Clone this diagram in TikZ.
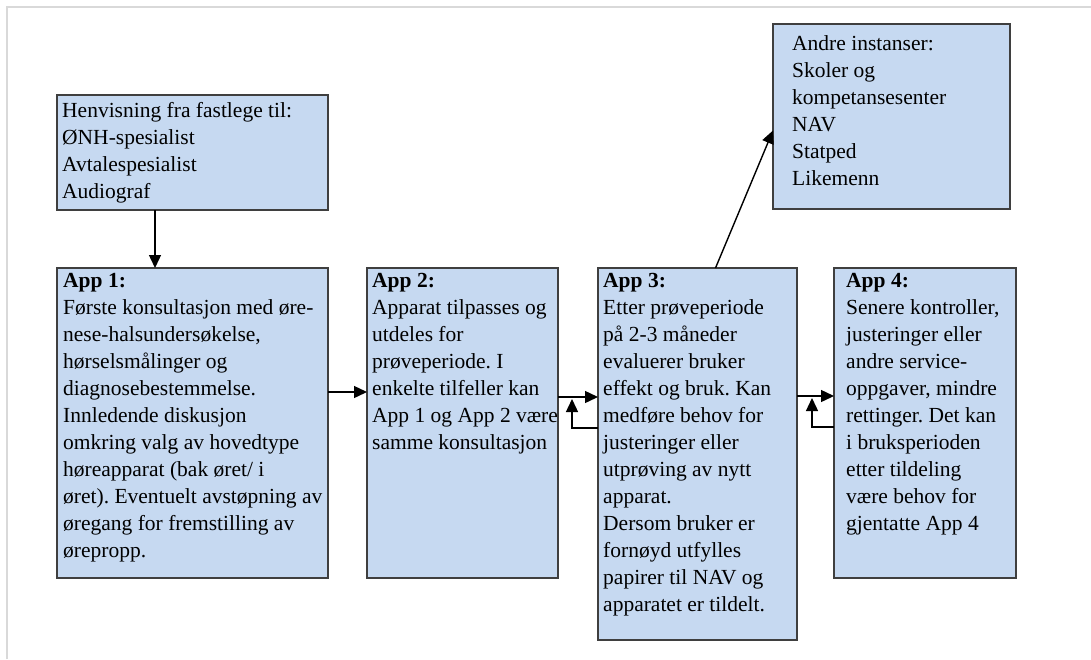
\documentclass[tikz,border=0pt]{standalone}
\usepackage{fontspec}
\setmainfont{Liberation Serif}
\usepackage{xcolor}
\usepackage{tikz}
\usetikzlibrary{positioning, arrows.meta}
\definecolor{boxfill}{HTML}{C6D9F1}
\definecolor{boxline}{HTML}{3F3F3F}
\definecolor{framegray}{HTML}{D9D9D9}
\frenchspacing

\begin{document}
\begin{tikzpicture}[x=1pt, y=-1pt, node distance=39pt]
				\tikzset{arrow/.style={-{Triangle[length=13pt, width=12pt]}, line width=1.4pt, black}}
				\tikzset{AppBox/.style={draw=boxline, fill=boxfill, line width=1.3pt, rectangle, inner sep=0pt, outer sep=0pt, anchor=north west}}
				\tikzset{AppText/.style={anchor=north west, align=left, inner sep=0pt, font=\fontsize{21.5}{27}\selectfont}}

				\useasboundingbox (0,0) rectangle (1091,659);
				\draw [framegray, line width=1.5pt] (7,659) -- (7,7) -- (1091,7);

				% Referral
				\node (ref) [AppBox, minimum width=271pt, minimum height=115pt] at (57,95) {};
				\node (reftext) [AppText] at ([xshift=5pt, yshift=-7pt]ref.north west) {Henvisning fra fastlege til:\\ØNH-spesialist\\Avtalespesialist\\Audiograf};

				% App 1
				\node (app1) [AppBox, minimum width=271pt, minimum height=310pt] at (57,268) {};
				\node (app1text) [AppText] at ([xshift=6pt, yshift=-5pt]app1.north west) {\textbf{App 1:}\\Første konsultasjon med øre-\\nese-halsundersøkelse,\\hørselsmålinger og\\diagnosebestemmelse.\\Innledende diskusjon\\omkring valg av hovedtype\\høreapparat (bak øret/ i\\øret). Eventuelt avstøpning av\\øregang for fremstilling av\\ørepropp.};

				% App 2
				\node (app2) [AppBox, minimum width=191pt, minimum height=310pt, right=of app1.north east, anchor=north west] {};
				\node (app2text) [AppText] at ([xshift=5pt, yshift=-5pt]app2.north west) {\textbf{App 2:}\\Apparat tilpasses og\\utdeles for\\prøveperiode. I\\enkelte tilfeller kan\\App 1 og App 2 være\\samme konsultasjon};

				% App 3
				\node (app3) [AppBox, minimum width=199pt, minimum height=372pt, right=40pt of app2.north east, anchor=north west] {};
				\node (app3text) [AppText] at ([xshift=5pt, yshift=-5pt]app3.north west) {\textbf{App 3:}\\Etter prøveperiode\\på 2-3 måneder\\evaluerer bruker\\effekt og bruk. Kan\\medføre behov for\\justeringer eller\\utprøving av nytt\\apparat.\\Dersom bruker er\\fornøyd utfylles\\papirer til NAV og\\apparatet er tildelt.};

				% App 4
				\node (app4) [AppBox, minimum width=182pt, minimum height=310pt, right=37pt of app3.north east, anchor=north west] {};
				\node (app4text) [AppText] at ([xshift=12pt, yshift=-5pt]app4.north west) {\textbf{App 4:}\\Senere kontroller,\\justeringer eller\\andre service-\\oppgaver, mindre\\rettinger. Det kan\\i bruksperioden\\etter tildeling\\være behov for\\gjentatte App 4};

				% Other parties
				\node (other) [AppBox, minimum width=237pt, minimum height=185pt] at (773,24) {};
				\node (othertext) [AppText] at ([xshift=19pt, yshift=-11pt]other.north west) {Andre instanser:\\Skoler og\\kompetansesenter\\NAV\\Statped\\Likemenn};

				% Connections
				\draw [arrow] ([xshift=-37.5pt]ref.south) -- ([xshift=-37.5pt]app1.north);
				\draw [arrow] ([yshift=31pt]app1.east) -- ([yshift=31pt]app1.east -| app2.west);
				\draw [arrow] ([yshift=26pt]app2.east) -- ([yshift=26pt]app2.east -| app3.west);
				\draw [arrow] ([yshift=-5pt]app2.east -| app3.west) -| ([xshift=14pt, yshift=24pt]app2.east);
				\draw [arrow] ([yshift=27pt]app4.west -| app3.east) -- ([yshift=27pt]app4.west);
				\draw [arrow] ([yshift=-4pt]app4.west) -| ([xshift=15pt, yshift=25pt]app4.west -| app3.east);
				\draw [arrow] ([xshift=18pt]app3.north) -- ([yshift=-14pt]other.west);

\end{tikzpicture}
\end{document}
